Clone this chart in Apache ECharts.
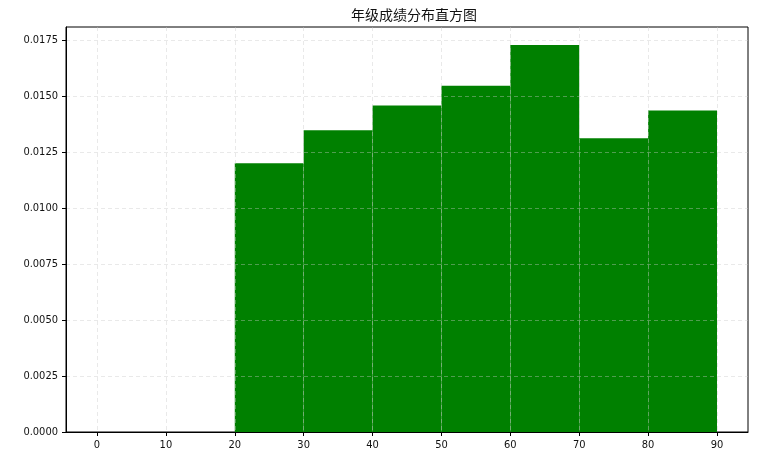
<!DOCTYPE html>
<html><head><meta charset="utf-8">
<script src="https://cdn.jsdelivr.net/npm/echarts@6/dist/echarts.min.js"></script>
<style>html,body{margin:0;padding:0;background:#fff}#c{width:771px;height:461px}</style>
</head><body><div id="c"></div>
<script>
const title = '年级成绩分布直方图';
const binStarts = [20, 30, 40, 50, 60, 70, 80];
const binEnds = [30, 40, 50, 60, 70, 80, 90];
const densities = [0.01200, 0.01347, 0.01458, 0.01546, 0.01728, 0.01311, 0.01435];
const xTicks = [0, 10, 20, 30, 40, 50, 60, 70, 80, 90];
const yTicks = [0, 0.0025, 0.005, 0.0075, 0.01, 0.0125, 0.015, 0.0175];

const data = binStarts.map((s, i) => [s, binEnds[i], densities[i]]);
const chart = echarts.init(document.getElementById('c'));
const lab = {color: '#111', fontSize: 11, fontFamily: 'DejaVu Sans Condensed, sans-serif'};
chart.setOption({
  animation: false,
  title: {text: title, left: 409, textAlign: 'center', top: 3,
    textStyle: {fontFamily: 'Noto Sans CJK SC', fontSize: 14, fontWeight: 'normal', color: '#111'}},
  grid: {left: 66, right: 23, top: 27, bottom: 29, show: true, borderColor: '#000', borderWidth: 1, backgroundColor: 'transparent'},
  xAxis: {type: 'value', min: -4.5, max: 94.5, interval: 10, z: 5,
    axisLine: {show: true, onZero: false, lineStyle: {color: '#000'}},
    axisTick: {show: true, length: 4, lineStyle: {color: '#000'}, customValues: xTicks},
    axisLabel: Object.assign({margin: 8, customValues: xTicks}, lab),
    splitLine: {show: true, lineStyle: {type: [4, 3], color: 'rgba(200,200,200,0.4)'}}
  },
  yAxis: {type: 'value', min: 0, max: 0.01808, interval: 0.0025, z: 5,
    axisLine: {show: true, onZero: false, lineStyle: {color: '#000'}},
    axisTick: {show: true, length: 4, lineStyle: {color: '#000'}, customValues: yTicks},
    axisLabel: Object.assign({margin: 8, customValues: yTicks, formatter: v => v.toFixed(4)}, lab),
    splitLine: {show: true, lineStyle: {type: [4, 3], color: 'rgba(200,200,200,0.4)'}}
  },
  series: [{
    type: 'custom', z: 1,
    data: data,
    encode: {x: [0, 1], y: 2},
    renderItem: function (params, api) {
      const p0 = api.coord([api.value(0), api.value(2)]);
      const p1 = api.coord([api.value(1), 0]);
      return {type: 'rect', shape: {x: p0[0], y: p0[1], width: p1[0] - p0[0], height: p1[1] - p0[1]},
        style: {fill: '#008000'}};
    }
  }]
});
</script></body></html>
